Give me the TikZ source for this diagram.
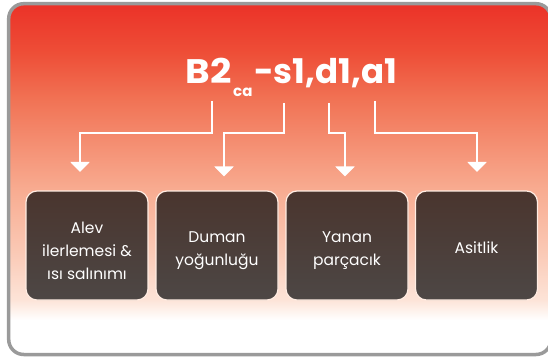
\documentclass[tikz,border=0pt]{standalone}
\usepackage{fontspec}
\setmainfont{Poppins}
\usetikzlibrary{arrows.meta}
\definecolor{frameGray}{RGB}{154,154,154}
\definecolor{bgA}{RGB}{253,228,216}
\definecolor{bgB}{RGB}{250,200,180}
\definecolor{bgC}{RGB}{248,172,145}
\definecolor{bgD}{RGB}{241,115,85}
\definecolor{bgE}{RGB}{238,78,55}
\definecolor{bgF}{RGB}{235,50,40}
\definecolor{boxTop}{RGB}{74,53,46}
\definecolor{boxBot}{RGB}{77,71,69}
\definecolor{boxEdge}{RGB}{255,236,226}
% stops mapped into the 25bp--75bp band that pgf fits to the path
\pgfdeclareverticalshading{bgshade}{100bp}{color(0bp)=(white); color(25bp)=(white); color(29.9bp)=(white); color(32.75bp)=(bgA); color(39.9bp)=(bgB); color(48.45bp)=(bgC); color(61.25bp)=(bgD); color(68bp)=(bgE); color(75bp)=(bgF); color(100bp)=(bgF)}
\tikzset{
  catbox/.style={rounded corners=11pt, draw=boxEdge, line width=1.2pt,
    top color=boxTop, bottom color=boxBot, minimum width=122pt, minimum height=109pt},
  boxlabel/.style={text=white, align=center, font=\fontsize{15.5}{23}\selectfont, inner sep=0pt},
  titlefont/.style={anchor=base west, inner sep=0pt, text=white, font=\fontsize{34}{34}\selectfont\bfseries},
  pointer/.style={draw=white, line width=2pt, line join=miter,
    -{Triangle[width=19pt,length=10pt]}},
}
\begin{document}
\begin{tikzpicture}[x=1pt,y=-1pt]
\useasboundingbox (0,0) rectangle (548,358);
% frame
\path[shading=bgshade, rounded corners=15pt] (8.7,3.7) rectangle (551,354.5);
\draw[frameGray, line width=3.5pt, rounded corners=15pt] (8.7,3.7) rectangle (551,354.5);
% title
\node[titlefont, anchor=base east] (titleB) at (232,84) {\scalebox{1.1}[1]{B2}};
\node[anchor=base west, inner sep=0pt, text=white, font=\fontsize{15}{15}\selectfont\bfseries] (titleSub) at (233,97) {ca};
\node[titlefont] (titleRest) at (254,84) {-s1,d1,a1};
% connector start and tip coordinates
\coordinate (s1) at (211.5,101);
\coordinate (s2) at (283.5,103);
\coordinate (s3) at (329,103);
\coordinate (s4) at (374.5,101);
\coordinate (t1) at (80,172);
\coordinate (t2) at (224,176.5);
\coordinate (t3) at (345,176.5);
\coordinate (t4) at (477,172);
\draw[pointer] (s1) |- (80,133.5) -- (t1);
\draw[pointer] (s2) |- (224,133.5) -- (t2);
\draw[pointer] (s3) |- (345,133.5) -- (t3);
\draw[pointer] (s4) |- (477,133.5) -- (t4);
% boxes
\node[catbox] (b1) at (87,245.5) {};
\node[catbox] (b2) at (217,245.5) {};
\node[catbox] (b3) at (347,245.5) {};
\node[catbox] (b4) at (476.5,245.5) {};
\node[boxlabel] (l1) at (87,251) {Alev\\ilerlemesi \&\\ısı salınımı};
\node[boxlabel] (l2) at (217,251) {Duman\\yoğunluğu};
\node[boxlabel] (l3) at (347,251) {Yanan\\parçacık};
\node[boxlabel] (l4) at (476.5,248) {Asitlik};
\end{tikzpicture}
\end{document}
